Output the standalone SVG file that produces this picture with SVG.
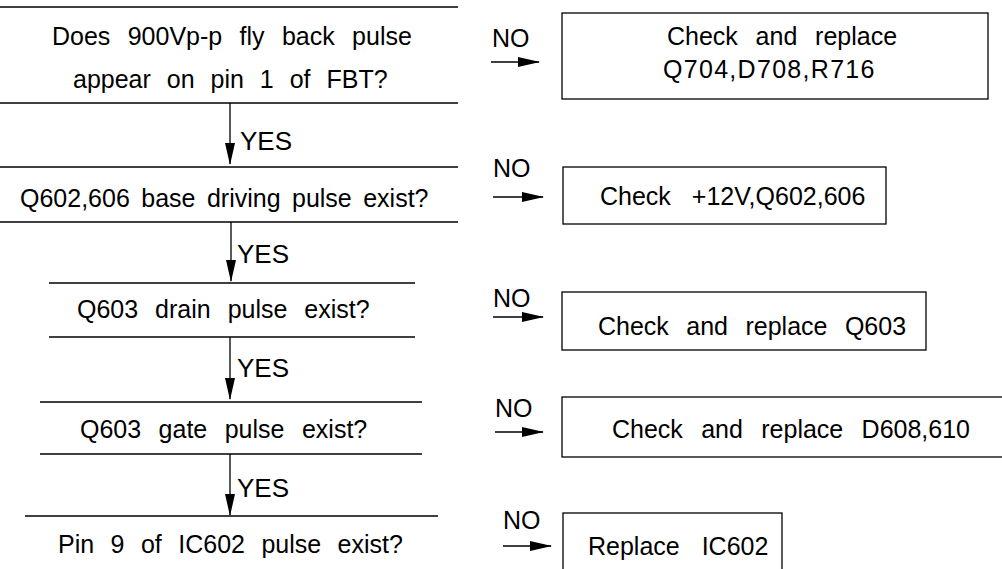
<svg xmlns="http://www.w3.org/2000/svg" width="1002" height="569" viewBox="0 0 1002 569">
<style>
text{font-family:"Liberation Sans",Arial,sans-serif;font-size:25px;fill:#000}
.lbl{font-size:25px}
.yes{font-size:26px}
.ln{stroke:#000;stroke-width:1.3;fill:none}
.bx{stroke:#000;stroke-width:1.3;fill:#fff}
</style>
<defs>
<marker id="ah" markerUnits="userSpaceOnUse" markerWidth="22" markerHeight="12" refX="21" refY="5" orient="auto" viewBox="0 0 22 10">
<path d="M0,0 L22,5 L0,10 Z" fill="#000"/>
</marker>
</defs>
<rect width="1002" height="569" fill="#fff"/>
<g id="q1">
<line class="ln" x1="0" y1="7" x2="458" y2="7"/>
<text x="52" y="45" word-spacing="10.4">Does 900Vp-p fly back pulse</text>
<text x="73" y="88" word-spacing="9">appear on pin 1 of FBT?</text>
<line class="ln" x1="0" y1="103" x2="458" y2="103"/>
</g>
<g id="q2">
<line class="ln" x1="0" y1="167" x2="458" y2="167"/>
<text x="20" y="207" word-spacing="4.5">Q602,606 base driving pulse exist?</text>
<line class="ln" x1="0" y1="222" x2="458" y2="222"/>
</g>
<g id="q3">
<line class="ln" x1="49" y1="283" x2="415" y2="283"/>
<text x="77" y="318" word-spacing="10">Q603 drain pulse exist?</text>
<line class="ln" x1="49" y1="337" x2="415" y2="337"/>
</g>
<g id="q4">
<line class="ln" x1="40" y1="402" x2="422" y2="402"/>
<text x="80" y="438" word-spacing="10.5">Q603 gate pulse exist?</text>
<line class="ln" x1="40" y1="454" x2="422" y2="454"/>
</g>
<g id="q5">
<line class="ln" x1="25" y1="516" x2="438" y2="516"/>
<text x="58" y="553" word-spacing="9.5">Pin 9 of IC602 pulse exist?</text>
</g>
<g id="r1">
<rect class="bx" x="562" y="13" width="426" height="86"/>
<text x="667" y="45" word-spacing="10.8">Check and replace</text>
<text x="663" y="78" letter-spacing="1.3">Q704,D708,R716</text>
</g>
<g id="r2">
<rect class="bx" x="563" y="167" width="323" height="57"/>
<text x="600" y="205" word-spacing="14">Check +12V,Q602,606</text>
</g>
<g id="r3">
<rect class="bx" x="562" y="292" width="364" height="58"/>
<text x="598" y="335" word-spacing="10.5">Check and replace Q603</text>
</g>
<g id="r4">
<rect class="bx" x="562" y="397" width="450" height="60"/>
<text x="612" y="438" word-spacing="11.4">Check and replace D608,610</text>
</g>
<g id="r5">
<rect class="bx" x="563" y="513" width="219" height="70"/>
<text x="588" y="555" word-spacing="15">Replace IC602</text>
</g>
<g id="connectors">
<line class="ln" x1="230" y1="103" x2="230" y2="164" marker-end="url(#ah)"/>
<line class="ln" x1="231" y1="222" x2="231" y2="281" marker-end="url(#ah)"/>
<line class="ln" x1="230" y1="337" x2="230" y2="399" marker-end="url(#ah)"/>
<line class="ln" x1="230" y1="454" x2="230" y2="515" marker-end="url(#ah)"/>
<line class="ln" x1="491" y1="62" x2="539" y2="62" marker-end="url(#ah)"/>
<line class="ln" x1="493" y1="197" x2="543" y2="197" marker-end="url(#ah)"/>
<line class="ln" x1="493" y1="317" x2="543" y2="317" marker-end="url(#ah)"/>
<line class="ln" x1="495" y1="432" x2="543" y2="432" marker-end="url(#ah)"/>
<line class="ln" x1="503" y1="546" x2="551" y2="546" marker-end="url(#ah)"/>
<text class="yes" x="240" y="150">YES</text>
<text class="yes" x="237" y="263">YES</text>
<text class="yes" x="237" y="377">YES</text>
<text class="yes" x="237" y="497">YES</text>
<text class="lbl" x="492" y="47">NO</text>
<text class="lbl" x="493" y="177">NO</text>
<text class="lbl" x="493" y="307">NO</text>
<text class="lbl" x="495" y="417">NO</text>
<text class="lbl" x="503" y="529">NO</text>
</g>
</svg>
